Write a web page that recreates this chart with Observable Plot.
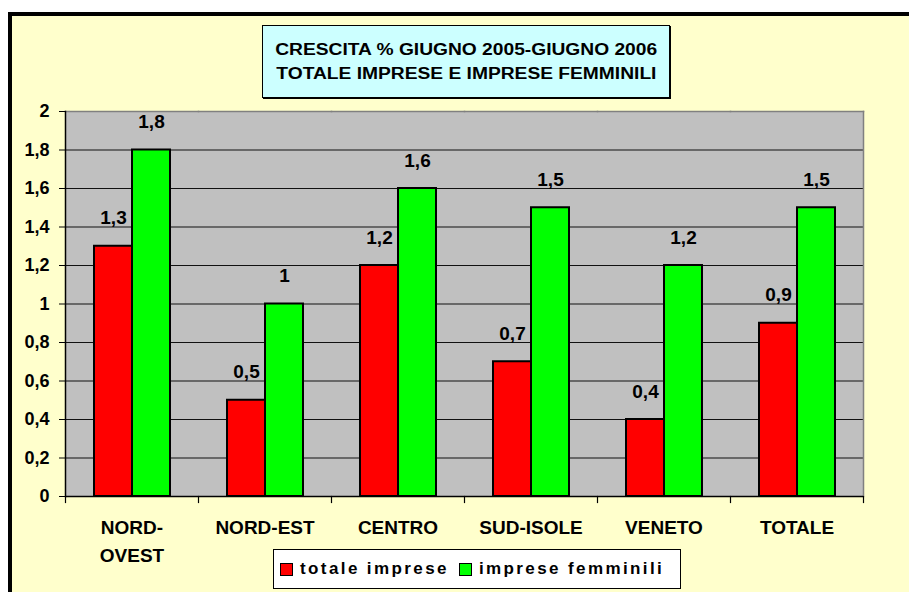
<!DOCTYPE html>
<html>
<head>
<meta charset="utf-8">
<script src="https://cdn.jsdelivr.net/npm/d3@7"></script>
<script src="https://cdn.jsdelivr.net/npm/@observablehq/plot@0.6"></script>
<style>
html,body{margin:0;padding:0;background:#fff;width:909px;height:592px;overflow:hidden;}
#page{position:relative;width:909px;height:592px;font-family:"Liberation Sans",Arial,sans-serif;font-weight:bold;color:#000;}
#bg{position:absolute;left:8px;top:12px;width:920px;height:600px;background:#FFFFCC;border-top:4px solid #000;border-left:4px solid #000;}
#title{position:absolute;left:262px;top:25px;width:406px;height:71px;background:#CCFFFF;border:1px solid #000;box-shadow:1px 1px 0 #000;text-align:center;font-size:16px;line-height:24px;}
#title div{height:24px;}
#title span{display:inline-block;transform:scaleX(1.2);transform-origin:center;}
#title .l1{margin-top:12px;}
#chart{position:absolute;left:0;top:100px;}
#legend{position:absolute;left:273px;top:549px;width:406px;height:38px;background:#fff;border:1px solid #000;display:flex;align-items:center;font-size:17px;letter-spacing:2.4px;}
.sw{width:11px;height:11px;border:1px solid #000;display:inline-block;}
</style>
</head>
<body>
<div id="page">
  <div id="bg"></div>
  <div id="title"><div class="l1"><span>CRESCITA % GIUGNO 2005-GIUGNO 2006</span></div><div><span>TOTALE IMPRESE E IMPRESE FEMMINILI</span></div></div>
  <div id="chart"></div>
  <div id="legend"></div>
</div>
<script>
const regions = ["NORD-OVEST", "NORD-EST", "CENTRO", "SUD-ISOLE", "VENETO", "TOTALE"];
const regionLabels = ["NORD-\nOVEST", "NORD-EST", "CENTRO", "SUD-ISOLE", "VENETO", "TOTALE"];
const series = ["totale imprese", "imprese femminili"];
const totaleImprese = [1.3, 0.5, 1.2, 0.7, 0.4, 0.9];
const impreseFemminili = [1.8, 1.0, 1.6, 1.5, 1.2, 1.5];
const yTicks = [0, 0.2, 0.4, 0.6, 0.8, 1, 1.2, 1.4, 1.6, 1.8, 2];
const colors = ["#FF0000", "#00FF00"];

const data = regions.flatMap((r, i) => [
  {region: r, series: series[0], value: totaleImprese[i]},
  {region: r, series: series[1], value: impreseFemminili[i]}
]);
const fmt = d => String(d).replace(".", ",");

const plot = Plot.plot({
  width: 909,
  height: 480,
  marginLeft: 63,
  marginRight: 45,
  marginTop: 11,
  marginBottom: 84,
  style: {background: "transparent", fontFamily: "'Liberation Sans', Arial, sans-serif", fontWeight: "bold", fontSize: "18px", color: "#000"},
  fx: {domain: regions, padding: 0, label: null},
  x: {domain: series, paddingInner: 0, paddingOuter: 0.73, axis: null},
  y: {domain: [0, 2], label: null},
  color: {domain: series, range: colors},
  marks: [
    Plot.frame({fill: "#C0C0C0", insetLeft: -0.6, insetRight: -0.6, shapeRendering: "crispEdges"}),
    Plot.ruleY(yTicks.filter(t => t > 0 && t < 2), {stroke: "#111", strokeWidth: 1.2}),
    Plot.frame({anchor: "top", stroke: "#808080", strokeWidth: 1.5}),
    Plot.frame({anchor: "right", stroke: "#808080", strokeWidth: 1.5, facetAnchor: "right"}),
    Plot.barY(data, {fx: "region", x: "series", y: "value", fill: "series", stroke: "#000", strokeWidth: 2}),
    Plot.text(data, {fx: "region", x: "series", y: "value", text: d => fmt(d.value), dy: -28, fontSize: 19, fontWeight: "bold", fill: "#000"}),
    Plot.ruleY([0], {stroke: "#000", strokeWidth: 1.5}),
    Plot.frame({anchor: "left", stroke: "#000", strokeWidth: 1.5, facetAnchor: "left"}),
    Plot.frame({anchor: "left", stroke: "#000", strokeWidth: 1.2, insetTop: 385, insetBottom: -6}),
    Plot.frame({anchor: "right", stroke: "#000", strokeWidth: 1.2, insetTop: 385, insetBottom: -6, facetAnchor: "right"}),
    Plot.axisY({ticks: yTicks, tickFormat: fmt, tickSize: 6, tickPadding: 10, fontSize: 18, fontWeight: "bold", stroke: "#000", label: null}),
    Plot.axisFx({anchor: "bottom", tickSize: 0, tickPadding: 18, tickFormat: d => regionLabels[regions.indexOf(d)], fontSize: 19, fontWeight: "bold", lineHeight: 1.47, label: null})
  ]
});
document.getElementById("chart").appendChild(plot);

const legend = document.getElementById("legend");
series.forEach((s, i) => {
  const sw = document.createElement("span");
  sw.className = "sw";
  sw.style.background = colors[i];
  sw.style.marginLeft = i === 0 ? "6px" : "10px";
  sw.style.marginRight = "7px";
  const t = document.createElement("span");
  t.textContent = s;
  legend.appendChild(sw);
  legend.appendChild(t);
});
</script>
</body>
</html>
